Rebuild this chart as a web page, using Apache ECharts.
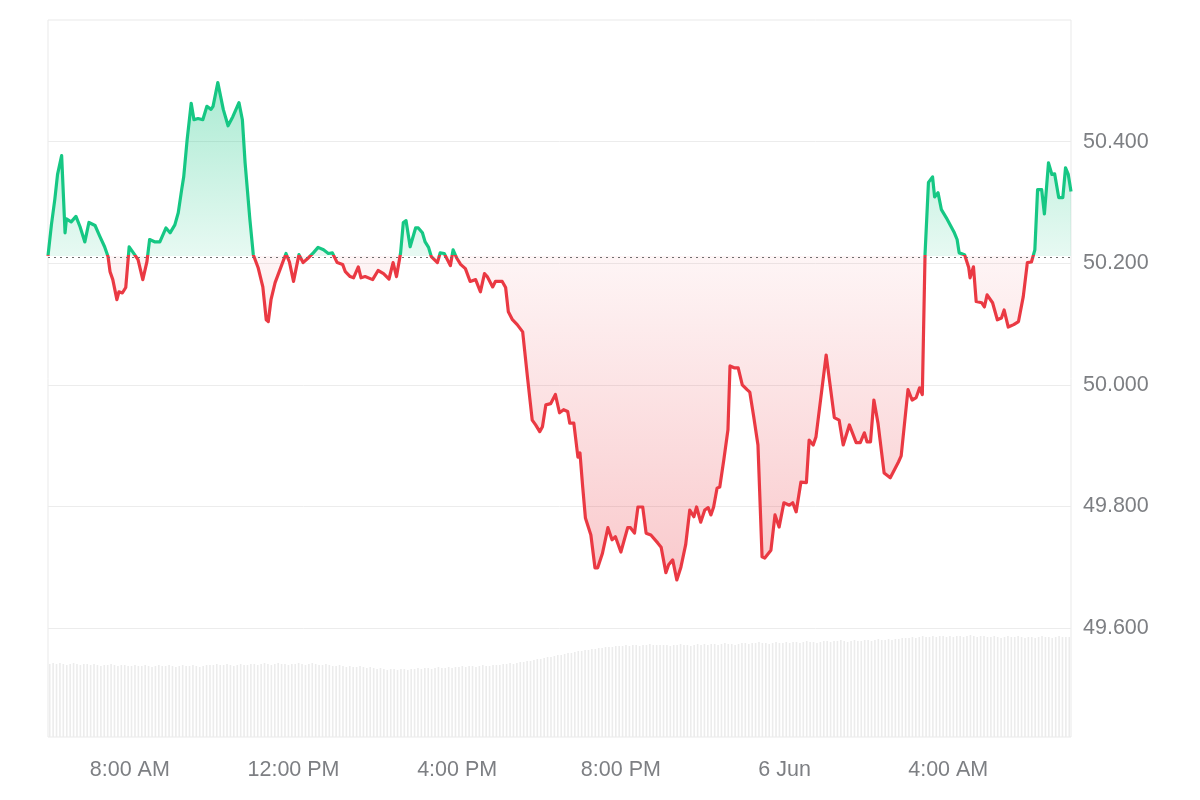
<!DOCTYPE html>
<html>
<head>
<meta charset="utf-8">
<script src="https://cdn.jsdelivr.net/npm/echarts@6/dist/echarts.min.js"></script>
<style>
html,body{margin:0;padding:0;background:#fff;}
#chart{width:1200px;height:800px;}
</style>
</head>
<body>
<div id="chart"></div>
<script>
// minutes after 06:00, 5 Jun
const times = [
0,5,10,14,20,25,27,34,41,47,54,60,69,76,83,88,91,95,101,104,109,114,119,127,132,139,145,149,157,164,
173,179,186,191,196,199,204,210,214,220,227,233,239,242,249,257,264,271,280,285,289,296,301,308,315,320,323,327,333,340,
349,354,360,368,374,382,389,396,404,411,417,424,432,436,443,448,455,459,465,476,484,492,500,506,511,517,521,525,531,539,
543,549,553,558,562,571,575,581,590,594,599,605,612,619,627,634,640,644,652,656,666,671,675,681,688,696,703,710,715,721,
725,730,737,744,750,756,762,765,771,777,780,784,788,796,802,806,813,821,827,832,840,850,854,860,865,872,877,884,894,899,
906,910,916,922,928,935,941,947,951,957,963,968,972,976,981,985,991,997,1000,1006,1012,1018,1025,1029,1035,1041,1047,1051,1060,1066,
1072,1079,1087,1092,1097,1104,1112,1116,1122,1126,1141,1153,1160,1166,1175,1185,1191,1197,1201,1206,1211,1217,1226,1235,1247,1251,1261,1267,1273,1278,
1282,1286,1291,1297,1300,1305,1310,1317,1329,1333,1336,1344,1350,1352,1357,1361,1369,1373,1377,1385,1392,1398,1402,1408,1416,1423,1430,1436,1442,1447,
1451,1457,1461,1467,1472,1476,1482,1488,1492,1496,1500
];
const prices = [
50.212,50.263,50.305,50.346,50.377,50.250,50.273,50.268,50.277,50.260,50.235,50.267,50.262,50.244,50.227,50.211,50.186,50.173,50.140,50.153,50.151,50.160,50.227,50.214,50.206,50.173,50.202,50.239,50.235,50.235,
50.258,50.250,50.263,50.283,50.321,50.342,50.403,50.463,50.436,50.438,50.436,50.458,50.453,50.458,50.497,50.453,50.426,50.441,50.464,50.436,50.365,50.272,50.214,50.193,50.161,50.107,50.104,50.140,50.168,50.189,
50.216,50.202,50.170,50.214,50.201,50.209,50.217,50.226,50.222,50.216,50.217,50.201,50.198,50.186,50.178,50.176,50.194,50.176,50.178,50.173,50.188,50.183,50.174,50.201,50.178,50.217,50.267,50.270,50.227,50.258,
50.258,50.250,50.235,50.226,50.211,50.201,50.217,50.216,50.196,50.222,50.209,50.198,50.191,50.170,50.173,50.153,50.183,50.178,50.161,50.170,50.170,50.160,50.120,50.107,50.099,50.087,50.013,49.942,49.934,49.923,
49.931,49.967,49.969,49.984,49.954,49.959,49.956,49.937,49.937,49.881,49.888,49.832,49.781,49.753,49.699,49.699,49.723,49.765,49.745,49.750,49.725,49.765,49.765,49.756,49.799,49.799,49.756,49.753,49.740,49.733,
49.691,49.704,49.712,49.679,49.700,49.737,49.794,49.783,49.799,49.774,49.794,49.798,49.786,49.799,49.830,49.832,49.877,49.926,50.031,50.028,50.028,50.000,49.992,49.988,49.946,49.901,49.717,49.715,49.728,49.786,
49.766,49.806,49.802,49.806,49.791,49.840,49.839,49.909,49.901,49.914,50.049,49.946,49.942,49.901,49.934,49.905,49.905,49.921,49.906,49.906,49.975,49.937,49.855,49.847,49.873,49.883,49.992,49.975,49.979,49.995,
49.984,50.215,50.333,50.342,50.309,50.316,50.288,50.275,50.250,50.239,50.217,50.214,50.193,50.176,50.194,50.137,50.135,50.128,50.148,50.135,50.107,50.110,50.123,50.095,50.099,50.104,50.145,50.201,50.202,50.222,
50.321,50.321,50.281,50.365,50.346,50.347,50.308,50.308,50.357,50.346,50.318
];
const basePrice = 50.212;

// volume, one bar per 5 minutes from 06:00
const volumeTimes = Array.from({length: 300}, (_, i) => i * 5 + 2.5);
const volumes = [
73,74,73,74,73,72,73,74,73,72,73,73,
72,73,72,71,72,72,73,72,71,72,72,71,
71,72,71,71,72,71,70,71,72,71,71,72,
71,70,71,72,71,71,72,71,70,71,72,72,
72,73,72,72,73,72,71,72,73,72,72,73,
73,72,73,74,73,72,73,74,73,73,72,73,
73,74,73,72,73,74,73,72,72,73,72,71,
71,72,71,70,71,70,70,71,70,69,70,69,
68,69,68,67,68,68,67,68,68,67,68,68,
69,68,69,69,68,69,70,69,69,70,69,70,
70,71,70,71,71,70,71,72,71,71,72,72,
72,73,73,74,73,74,75,75,76,76,77,78,
78,79,80,80,81,82,82,83,84,84,85,86,
86,87,87,88,88,89,89,90,90,90,91,91,
91,92,91,92,92,91,92,92,93,92,92,92,
92,92,91,92,92,93,92,92,91,92,93,92,
93,92,93,93,92,93,94,93,93,92,93,94,
94,93,94,94,95,94,94,93,94,95,94,94,
95,94,95,95,94,95,96,95,95,94,95,96,
96,95,96,96,97,96,95,96,97,96,96,97,
97,96,97,98,97,97,98,97,98,98,99,99,
99,100,99,100,101,100,100,101,100,101,101,100,
101,100,101,101,100,101,102,101,100,101,101,100,
100,101,100,99,100,101,100,100,101,100,99,100,
100,99,100,101,100,100,99,100,101,100,100,100
];
const volumeAxisMax = 717;

const xTickValues = [120, 360, 600, 840, 1080, 1320];
const xTickLabels = ['8:00 AM', '12:00 PM', '4:00 PM', '8:00 PM', '6 Jun', '4:00 AM'];

const GREEN = '#16c784';
const RED = '#ea3943';

const pMax = Math.max(...prices);
const pMin = Math.min(...prices);
const f = (pMax - basePrice) / (pMax - pMin);

const chart = echarts.init(document.getElementById('chart'), null, {renderer: 'canvas'});
const font = '"Liberation Sans", Arial, sans-serif';
const labelColor = '#7d7f83';

chart.setOption({
  animation: false,
  backgroundColor: '#ffffff',
  grid: [
    {left: 48, right: 129, top: 20, bottom: 172, show: false},
    {left: 48, right: 129, top: 20, bottom: 63, show: true, borderColor: '#e9e9e9', borderWidth: 1}
  ],
  xAxis: [
    {type: 'value', gridIndex: 0, min: 0, max: 1500, show: false},
    {type: 'value', gridIndex: 1, min: 0, max: 1500,
      axisLine: {show: false}, axisTick: {show: false}, splitLine: {show: false},
      axisLabel: {
        customValues: xTickValues,
        formatter: function (v) { const i = xTickValues.indexOf(v); return i >= 0 ? xTickLabels[i] : ''; },
        color: labelColor, fontSize: 21.5, fontFamily: font, margin: 22
      }
    }
  ],
  yAxis: [
    {type: 'value', gridIndex: 0, position: 'right', min: 49.6, max: 50.6, interval: 0.2,
      axisLine: {show: false}, axisTick: {show: false},
      splitLine: {show: true, showMaxLine: false, lineStyle: {color: '#ececec', width: 1}},
      axisLabel: {
        formatter: function (v) { return v.toFixed(3); },
        showMaxLabel: false, showMinLabel: true,
        color: labelColor, fontSize: 21.5, fontFamily: font, margin: 12,
        padding: [3, 0, 0, 0]
      }
    },
    {type: 'value', gridIndex: 1, min: 0, max: volumeAxisMax, show: false}
  ],
  series: [
    {
      type: 'bar', xAxisIndex: 1, yAxisIndex: 1,
      data: volumeTimes.map((t, i) => [t, volumes[i]]),
      barWidth: 1.6,
      itemStyle: {color: '#ececec'},
      silent: true, z: 1
    },
    {
      type: 'line', xAxisIndex: 0, yAxisIndex: 0,
      data: times.map((t, i) => [t, prices[i]]),
      showSymbol: false, symbol: 'none',
      lineStyle: {
        width: 3.2, join: 'round',
        color: new echarts.graphic.LinearGradient(0, 0, 0, 1, [
          {offset: 0, color: GREEN},
          {offset: f, color: GREEN},
          {offset: f, color: RED},
          {offset: 1, color: RED}
        ])
      },
      areaStyle: {
        origin: basePrice,
        opacity: 1,
        color: new echarts.graphic.LinearGradient(0, 0, 0, 1, [
          {offset: 0, color: 'rgba(22,199,132,0.36)'},
          {offset: f, color: 'rgba(22,199,132,0.10)'},
          {offset: f, color: 'rgba(234,57,67,0.05)'},
          {offset: 1, color: 'rgba(234,57,67,0.27)'}
        ])
      },
      markLine: {
        silent: true, symbol: ['none', 'none'], label: {show: false},
        lineStyle: {type: [2, 4], color: '#6e6e6e', width: 1},
        data: [{yAxis: basePrice}]
      },
      z: 3
    }
  ]
});
</script>
</body>
</html>
